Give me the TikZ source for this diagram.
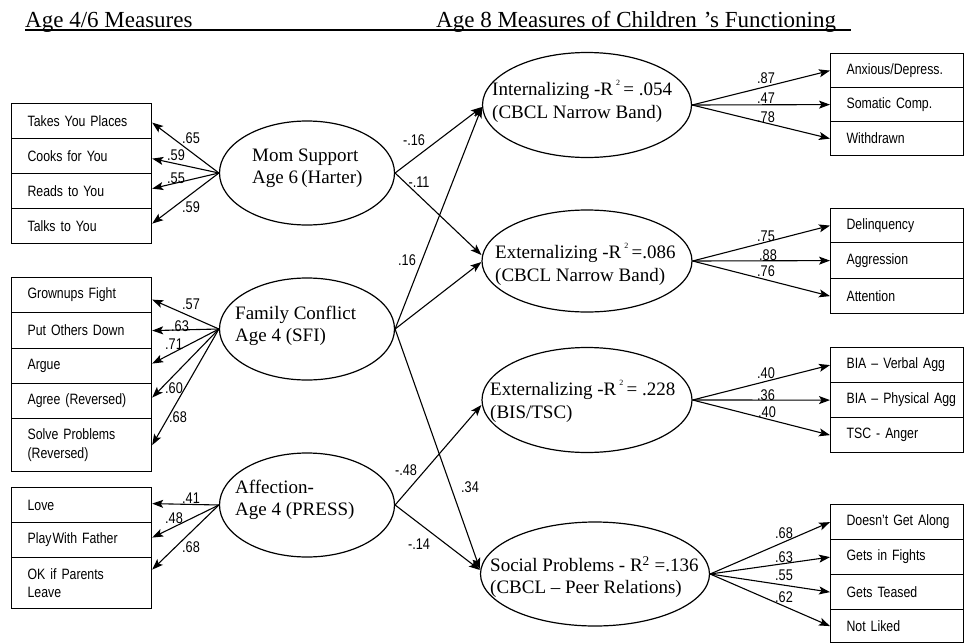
\documentclass[tikz,border=0pt]{standalone}
\usepackage{fontspec}
\setmainfont{Liberation Serif}
\newfontfamily\boxfont[FakeStretch=0.82]{Liberation Sans}
\usetikzlibrary{arrows.meta,shapes.geometric}
\newcommand{\tinysq}{\,\raisebox{0.55em}{\fontsize{8}{8}\selectfont 2}\,}
\begin{document}
\begin{tikzpicture}[x=1pt,y=-1pt,
  hdr/.style={font=\fontsize{23}{27}\selectfont, inner sep=0pt, anchor=base west},
  bx/.style={draw, line width=1.2pt, anchor=north west, inner xsep=16pt, inner ysep=0pt,
    align=left, font=\boxfont\fontsize{15}{18.5}\selectfont},
  lb/.style={bx, text width=108pt},
  rb/.style={bx, text width=101pt},
  ell/.style={ellipse, draw, line width=1.2pt, inner sep=0pt},
  etxt/.style={anchor=west, align=left, inner sep=0pt, font=\fontsize{19}{22.5}\selectfont},
  lbl/.style={inner sep=0pt, font=\boxfont\fontsize{15.5}{17}\selectfont},
  arr/.style={line width=1.1pt, -{Stealth[length=11pt,width=8pt,inset=2.5pt]}}
]
\useasboundingbox (0,0) rectangle (964,643);

% headers
\node[hdr] (h1) at (25,27) {Age 4/6 Measures};
\node[hdr] (h2) at (436,27) {Age 8 Measures of Children\hspace{7pt}’s Functioning};
\draw[line width=2.2pt] ([yshift=-2.8pt]h1.base west) -- ([yshift=-2.8pt,xshift=15pt]h2.base east);

% left boxes
\node[lb, minimum height=35pt] (takes) at (11,103) {Takes You Places};
\node[lb, minimum height=35pt] (cooks) at (11,138) {Cooks for You};
\node[lb, minimum height=35pt] (reads) at (11,173) {Reads to You};
\node[lb, minimum height=35pt] (talks) at (11,208) {Talks to You};

\node[lb, minimum height=35pt] (grown) at (11,277) {Grownups Fight};
\node[lb, minimum height=36pt] (put) at (11,312) {Put Others Down};
\node[lb, minimum height=35pt] (argue) at (11,348) {Argue};
\node[lb, minimum height=35pt] (agree) at (11,383) {Agree (Reversed)};
\node[lb, minimum height=53pt] (solve) at (11,418) {Solve Problems\\(Reversed)};

\node[lb, minimum height=35pt] (love) at (11,487) {Love};
\node[lb, minimum height=35pt] (play) at (11,522) {Play\hspace{1pt}With Father};
\node[lb, minimum height=51pt] (okp) at (11,557) {OK if Parents\\Leave};

% right boxes
\node[rb, minimum height=34pt] (anx) at (830,53) {\mbox{Anxious/Depress.}};
\node[rb, minimum height=34pt] (som) at (830,87) {\mbox{Somatic Comp.}};
\node[rb, minimum height=34pt] (wit) at (830,121) {\mbox{Withdrawn}};

\node[rb, minimum height=34pt] (del) at (830,208) {\mbox{Delinquency}};
\node[rb, minimum height=36pt] (agg) at (830,242) {\mbox{Aggression}};
\node[rb, minimum height=35pt] (att) at (830,278) {\mbox{Attention}};

\node[rb, minimum height=35pt] (bv) at (830,347) {\mbox{BIA – Verbal Agg}};
\node[rb, minimum height=35pt] (bp) at (830,382) {\mbox{BIA – Physical Agg}};
\node[rb, minimum height=35pt] (tsc) at (830,417) {\mbox{TSC - Anger}};

\node[rb, minimum height=35pt] (dga) at (830,504) {\mbox{Doesn’t Get Along}};
\node[rb, minimum height=35pt] (gif) at (830,539) {\mbox{Gets in Fights}};
\node[rb, minimum height=35pt] (gt) at (830,574) {\mbox{Gets Teased}};
\node[rb, minimum height=33pt] (nl) at (830,609) {\mbox{Not Liked}};

% ellipses
\node[ell, minimum width=175pt, minimum height=104pt] (mom) at (307,173) {};
\node[ell, minimum width=175pt, minimum height=102pt] (fam) at (307,329) {};
\node[ell, minimum width=175pt, minimum height=104pt] (aff) at (307,505) {};
\node[ell, minimum width=209pt, minimum height=105pt] (int) at (587,105) {};
\node[ell, minimum width=210pt, minimum height=102pt] (ext) at (587,261) {};
\node[ell, minimum width=210pt, minimum height=105pt] (bis) at (587,400) {};
\node[ell, minimum width=229pt, minimum height=104pt] (soc) at (595,574) {};

\node[etxt] (momT) at (252,168.5) {Mom Support\\Age 6\,(Harter)};
\node[etxt] (famT) at (235,326) {Family Conflict\\Age 4 (SFI)};
\node[etxt] (affT) at (235,500) {Affection-\\Age 4 (PRESS)};
\node[etxt] (intT) at (492,101) {Internalizing -R\tinysq= .054\\(CBCL Narrow Band)};
\node[etxt] (extT) at (495,264) {Externalizing -R\tinysq=.086\\(CBCL Narrow Band)};
\node[etxt] (bisT) at (490,401) {Externalizing -R\tinysq= .228\\(BIS/TSC)};
\node[etxt] (socT) at (490,577) {Social Problems - R\textsuperscript{2} =.136\\(CBCL – Peer Relations)};

% left loadings
\draw[arr] (mom.west) -- ([yshift=-1.5pt]takes.east);
\draw[arr] (mom.west) -- ([yshift=-2.5pt]cooks.east);
\draw[arr] (mom.west) -- ([yshift=2.5pt]reads.east);
\draw[arr] (mom.west) -- ([yshift=2.5pt]talks.east);

\draw[arr] (fam.west) -- ([yshift=-4.5pt]grown.east);
\draw[arr] (fam.west) -- (put.east);
\draw[arr] (fam.west) -- ([yshift=2.5pt]argue.east);
\draw[arr] (fam.west) -- ([yshift=3.5pt]agree.east);
\draw[arr] (fam.west) -- (solve.east);

\draw[arr] (aff.west) -- ([yshift=1.5pt]love.east);
\draw[arr] (aff.west) -- ([yshift=2.5pt]play.east);
\draw[arr] (aff.west) -- ([yshift=13.5pt]okp.east);

% structural paths
\draw[arr] (mom.east) -- ([yshift=-2pt]int.west);
\draw[arr] (fam.east) -- ([yshift=-2pt]int.west);
\draw[arr] (mom.east) -- ([yshift=6pt]ext.west);
\draw[arr] (fam.east) -- ([yshift=-1pt]ext.west);
\draw[arr] (aff.east) -- ([yshift=-5pt]bis.west);
\draw[arr] (fam.east) -- ([yshift=5pt]soc.west);
\draw[arr] (aff.east) -- ([yshift=4pt]soc.west);

% right loadings
\draw[arr] (int.east) -- (anx.west);
\draw[arr] (int.east) -- (som.west);
\draw[arr] (int.east) -- (wit.west);
\draw[arr] (ext.east) -- (del.west);
\draw[arr] (ext.east) -- (agg.west);
\draw[arr] (ext.east) -- (att.west);
\draw[arr] (bis.east) -- (bv.west);
\draw[arr] (bis.east) -- (bp.west);
\draw[arr] (bis.east) -- (tsc.west);
\draw[arr] (soc.east) -- (dga.west);
\draw[arr] (soc.east) -- (gif.west);
\draw[arr] (soc.east) -- (gt.west);
\draw[arr] (soc.east) -- (nl.west);

% labels
\node[lbl] (lm1) at (191,138) {.65};
\node[lbl] (lm2) at (176,155) {.59};
\node[lbl] (lm3) at (176,178) {.55};
\node[lbl] (lm4) at (191,207) {.59};
\node[lbl] (lf1) at (191,304) {.57};
\node[lbl] (lf2) at (180,326) {.63};
\node[lbl] (lf3) at (174,344) {.71};
\node[lbl] (lf4) at (174,388) {.60};
\node[lbl] (lf5) at (178,417) {.68};
\node[lbl] (la1) at (191,498) {.41};
\node[lbl] (la2) at (174,518) {.48};
\node[lbl] (la3) at (191,547) {.68};

\node[lbl] (s1) at (414,140) {-.16};
\node[lbl] (s2) at (419,182) {-.11};
\node[lbl] (s3) at (407,260) {.16};
\node[lbl] (s4) at (406,470) {-.48};
\node[lbl] (s5) at (470,487) {.34};
\node[lbl] (s6) at (419,544) {-.14};

\node[lbl] (r1) at (766,78) {.87};
\node[lbl] (r2) at (766,98) {.47};
\node[lbl] (r3) at (766,117) {.78};
\node[lbl] (r4) at (766,236) {.75};
\node[lbl] (r5) at (768,255) {.88};
\node[lbl] (r6) at (766,271) {.76};
\node[lbl] (r7) at (766,373) {.40};
\node[lbl] (r8) at (766,395) {.36};
\node[lbl] (r9) at (767,412) {.40};
\node[lbl] (r10) at (784,533) {.68};
\node[lbl] (r11) at (784,557) {.63};
\node[lbl] (r12) at (784,575) {.55};
\node[lbl] (r13) at (784,597) {.62};
\end{tikzpicture}
\end{document}
